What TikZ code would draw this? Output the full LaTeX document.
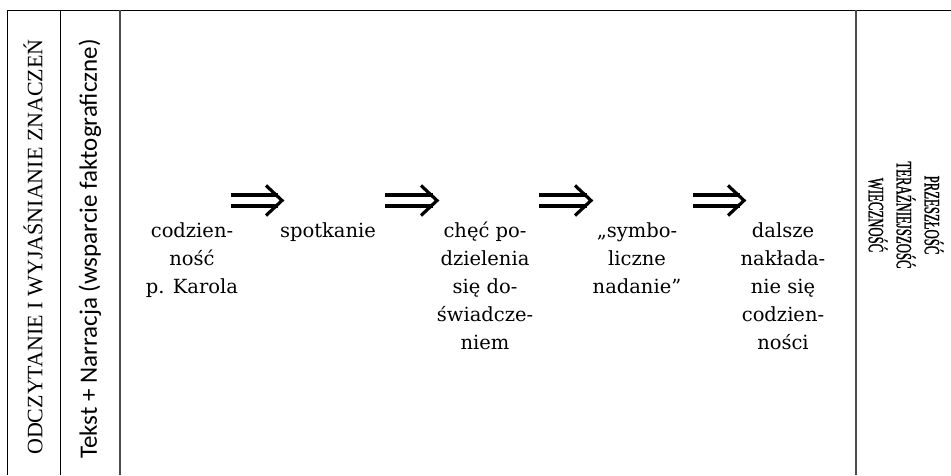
\documentclass[tikz,border=0pt]{standalone}
\usepackage{fontspec}
\setmainfont{DejaVu Serif}
\newfontfamily\capsfont{Liberation Serif}
\newfontfamily\narrowcaps[FakeStretch=0.58,FakeBold=1]{Liberation Serif}
\newfontfamily\notefont{Carlito}
\begin{document}
\begin{tikzpicture}[x=1pt,y=-1pt,
  rule/.style={line width=1pt,black},
  thickrule/.style={line width=1.7pt,black!70},
  steptext/.style={anchor=north,align=center,inner sep=0pt,
    font=\fontsize{19.5}{28}\selectfont},
  timeline/.style={rotate=-90,inner sep=0pt,
    font=\narrowcaps\fontsize{22}{26}\selectfont},
  shaft/.style={line width=3.2pt,line cap=butt},
  headline/.style={line width=3.2pt,line cap=butt,line join=miter}]
\useasboundingbox (0,0) rectangle (951,475);

% table frame
\draw[rule] (7,10) -- (951,10);
\draw[rule] (7,10) -- (7,475);
\draw[rule] (60,10) -- (60,475);
\draw[thickrule] (120,10) -- (120,475);
\draw[thickrule] (856,10) -- (856,475);

% side columns
\node[rotate=90,inner sep=0pt,font=\capsfont\fontsize{22}{26}\selectfont] (colA) at (33,247)
  {ODCZYTANIE I WYJAŚNIANIE ZNACZEŃ};
\node[rotate=90,inner sep=0pt,font=\notefont\fontsize{25}{30}\selectfont] (colB) at (90,249)
  {Tekst + Narracja (wsparcie faktograficzne)};
\node[timeline] (colC1) at (934,215) {PRZESZŁOŚĆ};
\node[timeline] (colC2) at (906,215) {TERAŹNIEJSZOŚĆ};
\node[timeline] (colC3) at (878,215) {WIECZNOŚĆ};

% steps
\node[steptext] (s1) at (192,222) {codzien-\\ność\\p. Karola};
\node[steptext] (s2) at (328,222) {spotkanie};
\node[steptext] (s3) at (485,222) {chęć po-\\dzielenia\\się do-\\świadcze-\\niem};
\node[steptext] (s4) at (637,222) {„symbo-\\liczne\\nadanie”};
\node[steptext] (s5) at (783,222) {dalsze\\nakłada-\\nie się\\codzien-\\ności};

% double arrows between the steps
\foreach \i/\xs/\xe in {1/231/283, 2/385/438, 3/539/592, 4/693/745} {
  \coordinate (a\i s) at (\xs,200.5);
  \coordinate (a\i e) at (\xe,200.5);
  \draw[shaft] ([yshift=5.5pt]a\i s) -- ([yshift=5.5pt,xshift=-5pt]a\i e);
  \draw[shaft] ([yshift=-5.5pt]a\i s) -- ([yshift=-5.5pt,xshift=-5pt]a\i e);
  \draw[headline] ([xshift=-17pt,yshift=15pt]a\i e) -- ([xshift=-1pt]a\i e)
    -- ([xshift=-17pt,yshift=-15pt]a\i e);
}
\end{tikzpicture}
\end{document}
